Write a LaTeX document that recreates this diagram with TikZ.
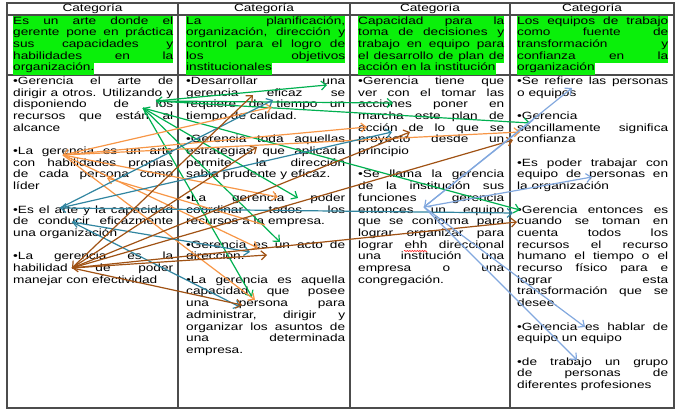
\documentclass[tikz,border=0pt]{standalone}
\usepackage{fontspec}
\setmainfont{Liberation Sans}[FakeStretch=1.3]
\usepackage{tikz}
\usepackage{xcolor}
\usetikzlibrary{arrows.meta,decorations.pathmorphing}
\definecolor{hlgreen}{RGB}{10,240,10}
\definecolor{arrgreen}{RGB}{0,176,80}
\definecolor{arrorange}{RGB}{247,150,70}
\definecolor{arrteal}{RGB}{49,133,160}
\definecolor{arrbrown}{RGB}{160,82,20}
\definecolor{arrlblue}{RGB}{130,168,222}
\setlength{\fboxsep}{0pt}
\newcommand{\jl}[1]{\makebox[\linewidth][s]{#1}}
\newcommand{\hj}[1]{\colorbox{hlgreen}{\strut\makebox[\linewidth][s]{#1}}}
\newcommand{\hlast}[1]{\colorbox{hlgreen}{\strut#1}}
\tikzset{
    cell-box/.style = {inner sep=0pt, anchor=base west, font=\fontsize{10.5}{11.7}\selectfont},
    cell-title/.style = {inner sep=0pt, anchor=base, font=\fontsize{10.5}{11.7}\selectfont},
    table-line/.style = {draw=black!70, line width=1.1pt},
    >={Straight Barb[length=5pt,width=9pt]},
    green-arrow/.style = {draw=arrgreen, line width=1.2pt, ->},
    orange-arrow/.style = {draw=arrorange, line width=1.2pt, ->},
    teal-arrow/.style = {draw=arrteal, line width=1.2pt, ->},
    brown-arrow/.style = {draw=arrbrown, line width=1.2pt, ->},
    blue-arrow/.style = {draw=arrlblue, line width=1.2pt, ->},
}

\begin{document}
\begin{tikzpicture}[x=1pt,y=-1pt]
\useasboundingbox (0,0) rectangle (679,414);
% table
\draw[table-line] (7,3) rectangle (674,408);
\draw[table-line] (7,15) -- (674,15);
\draw[table-line] (7,75) -- (674,75);
\draw[table-line] (178,3) -- (178,408);
\draw[table-line] (350,3) -- (350,408);
\draw[table-line] (510,3) -- (510,408);

\node[cell-title] (cat1) at (92.5,12) {Categoría};
\node[cell-title] (cat2) at (264,12) {Categoría};
\node[cell-title] (cat3) at (430,12) {Categoría};
\node[cell-title] (cat4) at (592,12) {Categoría};

% definitions
\node[cell-box] (def1) at (13,24.2) {\begin{minipage}[t]{160pt}
\hj{Es un arte donde el}\\
\hj{gerente pone en práctica}\\
\hj{sus capacidades y}\\
\hj{habilidades en la}\\
\hlast{organización.}
\end{minipage}};
\node[cell-box] (def2) at (186,24.2) {\begin{minipage}[t]{159pt}
\hj{La planificación,}\\
\hj{organización, dirección y}\\
\hj{control para el logro de}\\
\hj{los objetivos}\\
\hlast{institucionales}
\end{minipage}};
\node[cell-box] (def3) at (358,24.2) {\begin{minipage}[t]{146pt}
\hj{Capacidad para la}\\
\hj{toma de decisiones y}\\
\hj{trabajo en equipo para}\\
\hj{el desarrollo de plan de}\\
\hlast{acción en la institución}
\end{minipage}};
\node[cell-box] (def4) at (517,24.2) {\begin{minipage}[t]{151pt}
\hj{Los equipos de trabajo}\\
\hj{como fuente de}\\
\hj{transformación y}\\
\hj{confianza en la}\\
\hlast{organización}
\end{minipage}};

% answers
\node[cell-box] (ans1) at (13,84.4) {\begin{minipage}[t]{160pt}
\jl{•Gerencia el arte de}\\
\jl{dirigir a otros. Utilizando y}\\
\jl{disponiendo de los}\\
\jl{recursos que están al}\\
alcance\\[11.7pt]
\jl{•La gerencia es un arte}\\
\jl{con habilidades propias}\\
\jl{de cada persona como}\\
líder\\[11.7pt]
\jl{•Es el arte y la capacidad}\\
\jl{de conducir eficazmente}\\
una organización\\[11.7pt]
\jl{•La gerencia es la}\\
\jl{habilidad de poder}\\
manejar con efectividad
\end{minipage}};
\node[cell-box] (ans2) at (186,84.4) {\begin{minipage}[t]{159pt}
\jl{•Desarrollar una}\\
\jl{gerencia eficaz se}\\
\jl{requiere de tiempo un}\\
tiempo de calidad.\\[11.7pt]
\jl{•Gerencia toda aquellas}\\
\jl{estrategias que aplicada}\\
\jl{permite la dirección}\\
sabia prudente y eficaz.\\[11.7pt]
\jl{•La gerencia poder}\\
\jl{coordinar todos los}\\
recursos a la empresa.\\[11.7pt]
\jl{•Gerencia es un acto de}\\
dirección.\\[11.7pt]
\jl{•La gerencia es aquella}\\
\jl{capacidad que posee}\\
\jl{una persona para}\\
\jl{administrar, dirigir y}\\
\jl{organizar los asuntos de}\\
\jl{una determinada}\\
empresa.
\end{minipage}};
\node[cell-box] (ans3) at (358,84.4) {\begin{minipage}[t]{146pt}
\jl{•Gerencia tiene que}\\
\jl{ver con el tomar las}\\
\jl{acciones poner en}\\
\jl{marcha este plan de}\\
\jl{acción de lo que se}\\
\jl{proyecto desde un}\\
principio\\[11.7pt]
\jl{•Se llama la gerencia}\\
\jl{de la institución sus}\\
\jl{funciones gerencia}\\
\jl{entonces un equipo}\\
\jl{que se conforma para}\\
\jl{lograr organizar para}\\
\jl{lograr ehh direccional}\\
\jl{una institución una}\\
\jl{empresa o una}\\
congregación.
\end{minipage}};
\node[cell-box] (ans4) at (517,84.4) {\begin{minipage}[t]{151pt}
\jl{•Se refiere las personas}\\
o equipos\\[11.7pt]
•Gerencia\\
\jl{sencillamente significa}\\
confianza\\[11.7pt]
\jl{•Es poder trabajar con}\\
\jl{equipo de personas en}\\
la organización\\[11.7pt]
\jl{•Gerencia entonces es}\\
\jl{cuando se toman en}\\
\jl{cuenta todos los}\\
\jl{recursos el recurso}\\
\jl{humano el tiempo o el}\\
\jl{recurso físico para e}\\
\jl{lograr esta}\\
\jl{transformación que se}\\
desee.\\[11.7pt]
\jl{•Gerencia es hablar de}\\
equipo un equipo\\[11.7pt]
\jl{•de trabajo un grupo}\\
\jl{de personas de}\\
diferentes profesiones
\end{minipage}};

% spelling mark
\draw[red, line width=0.5pt, decorate, decoration={snake, amplitude=0.6pt, segment length=2.5pt}] (404,251) -- (427,251);

% arrow ends
\coordinate (g-hub-a) at (143,108);
\coordinate (g-hub-b) at (156,101);
\coordinate (g-una) at (327,85);
\coordinate (g-acciones) at (393,103);
\coordinate (g-encilla) at (530,123);
\coordinate (g-cuando) at (520,210);
\coordinate (g-gerencia) at (298,198);
\coordinate (g-recursos) at (280,242);
\coordinate (g-capacidad) at (252,297);

\coordinate (o-hub) at (63,155);
\coordinate (o-tiempo) at (272,107);
\coordinate (o-accion) at (367,127);
\coordinate (o-encilla) at (520,132);
\coordinate (o-gerencia) at (278,197);
\coordinate (o-acto) at (258,248);
\coordinate (o-persona) at (255,300);
\coordinate (o-empresa) at (265,225);
\coordinate (o-lider) at (107,178);

\coordinate (t-hub-a) at (60,208);
\coordinate (t-hub-b) at (72,222);
\coordinate (t-tiempo) at (273,100);
\coordinate (t-accion) at (392,132);
\coordinate (t-gerencia) at (513,213);
\coordinate (t-acto) at (250,252);
\coordinate (t-persona) at (240,307);

\coordinate (b-hub) at (72,268);
\coordinate (b-eficaz) at (253,95);
\coordinate (b-estrategias) at (257,147);
\coordinate (b-delo) at (410,132);
\coordinate (b-confianza) at (513,140);
\coordinate (b-cuando) at (517,222);
\coordinate (b-acto) at (267,255);
\coordinate (b-persona) at (242,305);

\coordinate (l-hub) at (424,207);
\coordinate (l-refiere) at (572,88);
\coordinate (l-encilla) at (533,120);
\coordinate (l-personas) at (592,177);
\coordinate (l-hablar) at (585,327);
\coordinate (l-trabajo) at (577,360);

% arrows
\draw[green-arrow] (g-hub-b) -- (g-una);
\draw[green-arrow] (g-hub-b) -- (g-acciones);
\draw[green-arrow, <->] (g-hub-b) -- (g-encilla);
\draw[green-arrow] (g-hub-a) -- (g-cuando);
\draw[green-arrow, <->] (g-hub-a) -- (g-gerencia);
\draw[green-arrow] (g-hub-a) -- (g-recursos);
\draw[green-arrow] (g-hub-a) -- (g-capacidad);

\draw[orange-arrow, <->] (o-hub) -- (o-tiempo);
\draw[orange-arrow] (o-hub) -- (o-accion);
\draw[orange-arrow] (o-hub) -- (o-encilla);
\draw[orange-arrow] (o-hub) -- (o-gerencia);
\draw[orange-arrow] (o-hub) -- (o-acto);
\draw[orange-arrow] (o-hub) -- (o-persona);
\draw[orange-arrow] (o-empresa) -- (o-lider);

\draw[teal-arrow] (t-hub-a) -- (t-tiempo);
\draw[teal-arrow] (t-hub-a) -- (t-accion);
\draw[teal-arrow, <->] (t-hub-a) -- (t-gerencia);
\draw[teal-arrow, <->] (t-hub-b) -- (t-acto);
\draw[teal-arrow] (t-hub-b) -- (t-persona);

\draw[brown-arrow, <->] (b-hub) -- (b-eficaz);
\draw[brown-arrow] (b-hub) -- (b-estrategias);
\draw[brown-arrow] (b-hub) -- (b-delo);
\draw[brown-arrow] (b-hub) -- (b-confianza);
\draw[brown-arrow, <->] (b-hub) -- (b-cuando);
\draw[brown-arrow] (b-hub) -- (b-acto);
\draw[brown-arrow] (b-hub) -- (b-persona);

\draw[blue-arrow] (l-hub) -- (l-refiere);
\draw[blue-arrow] (l-encilla) -- (l-hub);
\draw[blue-arrow] (l-hub) -- (l-personas);
\draw[blue-arrow] (l-hub) -- (l-hablar);
\draw[blue-arrow] (l-hub) -- (l-trabajo);
\end{tikzpicture}
\end{document}
